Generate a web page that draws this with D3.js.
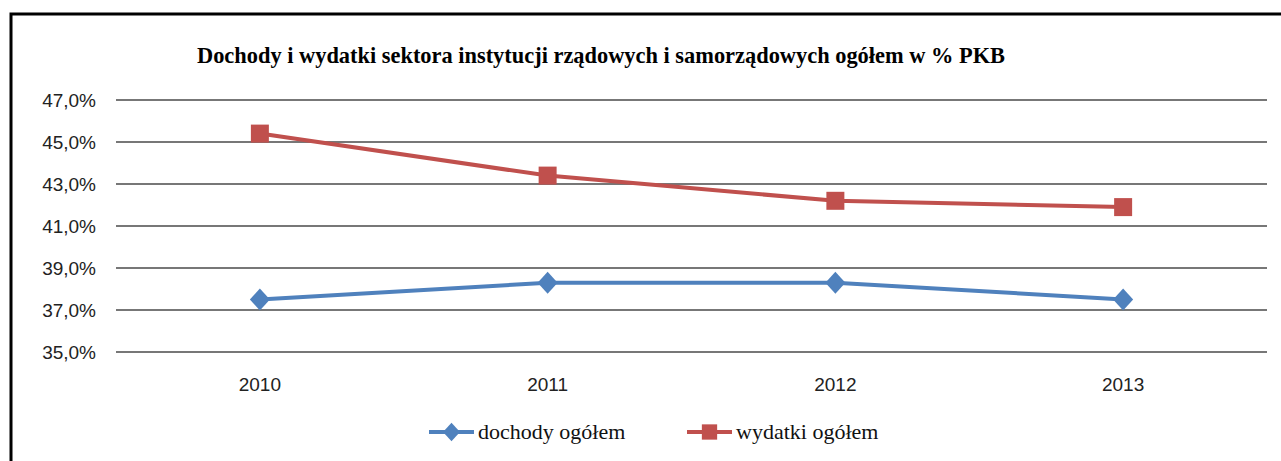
<!DOCTYPE html>
<html>
<head>
<meta charset="utf-8">
<script src="https://cdn.jsdelivr.net/npm/d3@7"></script>
<style>
  body { margin: 0; background: #fff; }
  svg { display: block; }
</style>
</head>
<body>
<svg id="chart"></svg>
<script>
// chart data
const years = ["2010", "2011", "2012", "2013"];
const dochody = [37.5, 38.3, 38.3, 37.5];
const wydatki = [45.4, 43.4, 42.2, 41.9];
const yTicks = [35, 37, 39, 41, 43, 45, 47];
const seriesNames = ["dochody ogółem", "wydatki ogółem"];
const title = "Dochody i wydatki sektora instytucji  rządowych i samorządowych ogółem w % PKB";

const width = 1281, height = 461;
const svg = d3.select("#chart").attr("width", width).attr("height", height);

// outer frame (only top and left edges visible)
svg.append("path")
  .attr("d", "M11," + height + "V14H" + width)
  .attr("fill", "none")
  .attr("stroke", "#000")
  .attr("stroke-width", 3);

svg.append("text")
  .attr("x", 197).attr("y", 63)
  .attr("textLength", 808)
  .attr("lengthAdjust", "spacingAndGlyphs")
  .style("font-family", "'Liberation Serif', serif")
  .style("font-weight", "bold")
  .style("font-size", "23px")
  .text(title);

const xScale = d3.scaleBand().domain(years).range([116, 1267]);
const yScale = d3.scaleLinear().domain([35, 47]).range([352, 100]);

// gridlines
svg.append("g").selectAll("line").data(yTicks).enter().append("line")
  .attr("x1", 116).attr("x2", 1267)
  .attr("y1", d => yScale(d)).attr("y2", d => yScale(d))
  .attr("stroke", "#4a4a4a")
  .attr("stroke-width", 1.6);

const yAxis = d3.axisLeft(yScale).tickValues(yTicks).tickSize(0).tickPadding(0)
  .tickFormat(d => d3.format(".1f")(d).replace(".", ",") + "%");
const gy = svg.append("g").attr("transform", "translate(96,0)").call(yAxis);
gy.select(".domain").remove();
gy.selectAll("text")
  .style("font-family", "'Liberation Sans', sans-serif")
  .style("font-size", "19px")
  .attr("fill", "#222");

const xAxis = d3.axisBottom(xScale).tickSize(0).tickPadding(0);
const gx = svg.append("g").attr("transform", "translate(0,377)").call(xAxis);
gx.select(".domain").remove();
gx.selectAll("text")
  .style("font-family", "'Liberation Sans', sans-serif")
  .style("font-size", "19px")
  .attr("fill", "#222");

const line = d3.line()
  .x((d, i) => xScale(years[i]) + xScale.bandwidth() / 2)
  .y(d => yScale(d));

const colors = ["#4f81bd", "#c0504d"];

// marker shapes: wide diamond and square
function marker(s, k) {
  if (s === 0) {
    const w = 10 * k, h = 11 * k;
    return "M0," + (-h) + "L" + w + ",0L0," + h + "L" + (-w) + ",0Z";
  }
  const a = 9 * k;
  return "M" + (-a) + "," + (-a) + "H" + a + "V" + a + "H" + (-a) + "Z";
}

const data = [dochody, wydatki];

data.forEach((vals, s) => {
  svg.append("path")
    .attr("d", line(vals))
    .attr("fill", "none")
    .attr("stroke", colors[s])
    .attr("stroke-width", 4);
  svg.append("g").selectAll("path").data(vals).enter().append("path")
    .attr("transform", (d, i) => "translate(" + (xScale(years[i]) + xScale.bandwidth() / 2) + "," + yScale(d) + ")")
    .attr("d", marker(s, 1))
    .attr("fill", colors[s]);
});

// legend
const legendX = [429, 687];
seriesNames.forEach((name, s) => {
  const g = svg.append("g").attr("transform", "translate(" + legendX[s] + ",432)");
  g.append("line").attr("x1", 0).attr("x2", 45).attr("y1", 0).attr("y2", 0)
    .attr("stroke", colors[s]).attr("stroke-width", 4);
  g.append("path").attr("transform", "translate(22.5,0)")
    .attr("d", marker(s, 0.85))
    .attr("fill", colors[s]);
  g.append("text").attr("x", 49).attr("y", 7)
    .style("font-family", "'Liberation Serif', serif")
    .style("font-size", "22px")
    .attr("fill", "#111")
    .text(name);
});
</script>
</body>
</html>
